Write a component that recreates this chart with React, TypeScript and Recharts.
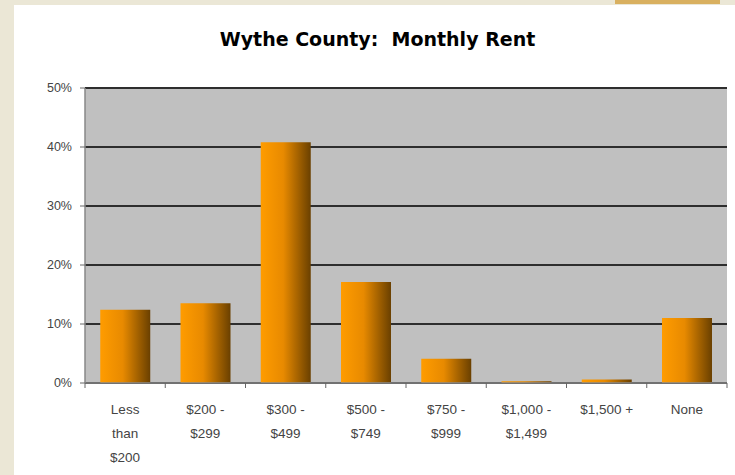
import React from "react";
import { BarChart, Bar, XAxis, YAxis, CartesianGrid } from "recharts";

const categories = ["Less than $200", "$200 - $299", "$300 - $499", "$500 - $749", "$750 - $999", "$1,000 - $1,499", "$1,500 +", "None"];
const tickLines = [["Less", "than", "$200"], ["$200 -", "$299"], ["$300 -", "$499"], ["$500 -", "$749"], ["$750 -", "$999"], ["$1,000 -", "$1,499"], ["$1,500 +"], ["None"]];
const shares = [12.4, 13.5, 40.8, 17.1, 4.1, 0.3, 0.6, 11.0];
const yTicks = [0, 10, 20, 30, 40, 50];

const data = categories.map((c, i) => ({ name: c, lines: tickLines[i], value: shares[i] }));

const CAT_W = 642 / categories.length;

function CatTick(props: any) {
  const { x, y, index } = props;
  const lines = tickLines[index] || [];
  return (
    <g>
      <line x1={x - CAT_W / 2} x2={x - CAT_W / 2} y1={y - 8} y2={y - 3} stroke="#666" />
      {index === categories.length - 1 && (
        <line x1={x + CAT_W / 2} x2={x + CAT_W / 2} y1={y - 8} y2={y - 3} stroke="#666" />
      )}
      <text x={x} y={y + 23} textAnchor="middle" fontSize={13.5} fill="#444" fontFamily="Liberation Sans, Arial, sans-serif">
        {lines.map((l, i) => (
          <tspan key={i} x={x} dy={i === 0 ? 0 : 24}>{l}</tspan>
        ))}
      </text>
    </g>
  );
}

export default function App() {
  return (
    <div style={{ position: "absolute", left: 0, top: 0, width: 735, height: 475, background: "#ebe7d6", overflow: "hidden" }}>
      <div style={{ position: "absolute", left: 615, top: 0, width: 105, height: 4, background: "#d9b060" }} />
      <div style={{ position: "absolute", left: 14, top: 5, width: 721, height: 470, background: "#fff" }} />
      <div
        style={{
          position: "absolute",
          left: 0,
          top: 28,
          width: 735,
          textAlign: "center",
          paddingLeft: 20,
          boxSizing: "border-box",
          fontFamily: "DejaVu Sans, sans-serif",
          fontWeight: 700,
          fontSize: 19,
          color: "#000",
          whiteSpace: "pre",
        }}
      >
        {"Wythe County:  Monthly Rent"}
      </div>
      <div style={{ position: "absolute", left: 0, top: 0 }}>
        <BarChart width={735} height={475} data={data} margin={{ top: 88, right: 8, left: 0, bottom: 0 }} barCategoryGap="19%">
          <defs>
            <linearGradient id="barGrad" x1="0" y1="0" x2="1" y2="0">
              <stop offset="0%" stopColor="#ff9c00" />
              <stop offset="45%" stopColor="#e88a00" />
              <stop offset="100%" stopColor="#6a4000" />
            </linearGradient>
          </defs>
          <CartesianGrid fill="#c0c0c0" vertical={false} stroke="#2e2e2e" strokeWidth={2} />
          <XAxis
            dataKey="name"
            height={92}
            axisLine={{ stroke: "#888", strokeWidth: 1.5 }}
            tickLine={false}
            interval={0}
            tick={<CatTick />}
          />
          <YAxis
            width={85}
            domain={[0, 50]}
            ticks={yTicks}
            tickFormatter={(v: number) => `${v}%`}
            axisLine={{ stroke: "#888", strokeWidth: 1.5 }}
            tickLine={{ stroke: "#666" }}
            tickSize={5}
            tickMargin={8}
            tick={{ fontSize: 12.5, fill: "#444", fontFamily: "Liberation Sans, Arial, sans-serif" }}
          />
          <YAxis yAxisId="right" orientation="right" width={0} tick={false} tickLine={false} axisLine={{ stroke: "#888", strokeWidth: 1.5 }} />
          <Bar dataKey="value" fill="url(#barGrad)" isAnimationActive={false} />
        </BarChart>
      </div>
    </div>
  );
}
